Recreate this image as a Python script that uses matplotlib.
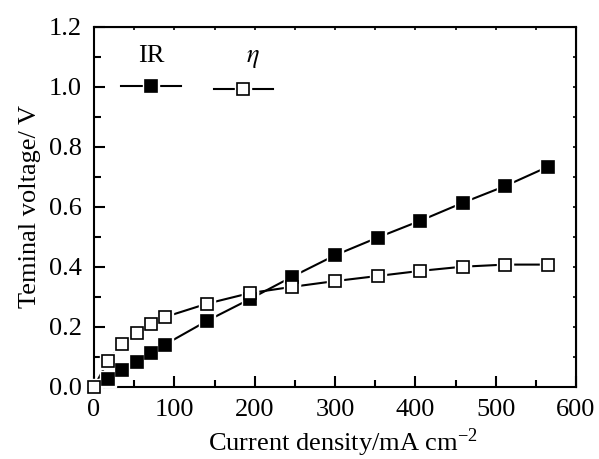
import matplotlib.pyplot as plt
from matplotlib.ticker import MultipleLocator
from matplotlib.legend_handler import HandlerTuple

plt.rcParams['font.family'] = ['Liberation Serif', 'DejaVu Serif']
plt.rcParams['mathtext.fontset'] = 'stix'

current_ir = [17.6, 35.3, 53, 70.6, 88, 141, 194, 247, 300, 353, 406, 459, 512, 565]
ir_drop = [0.026, 0.056, 0.083, 0.113, 0.14, 0.22, 0.292, 0.367, 0.438, 0.497, 0.553, 0.613, 0.669, 0.733]

current_eta = [0, 17.6, 35.3, 53, 70.6, 88, 141, 194, 247, 300, 353, 406, 459, 512, 565]
eta = [0.0, 0.087, 0.141, 0.178, 0.208, 0.232, 0.277, 0.312, 0.333, 0.352, 0.369, 0.386, 0.40, 0.407, 0.407]

fig = plt.figure(figsize=(5.99, 4.59), dpi=100)
ax = fig.add_axes([0.157, 0.1575, 0.8046, 0.7844])


def series(x, y, face, zm):
    # line, white halo to open a gap at each marker, then the marker
    ln, = ax.plot(x, y, '-', color='black', lw=1.5, zorder=3, clip_on=False)
    halo, = ax.plot(x, y, 's', ms=11, mfc='white', mec='white', zorder=3.1,
                    clip_on=False)
    mk, = ax.plot(x, y, 's', ms=8, mfc=face, mec='black', mew=1.2, zorder=zm,
                  clip_on=False)
    return (ln, halo, mk)


h1 = series(current_ir, ir_drop, 'black', 3.2)
h2 = series(current_eta, eta, 'white', 3.3)

ax.set_xlim(0, 600)
ax.set_ylim(0, 1.2)
ax.xaxis.set_major_locator(MultipleLocator(100))
ax.xaxis.set_minor_locator(MultipleLocator(50))
ax.yaxis.set_major_locator(MultipleLocator(0.2))
ax.yaxis.set_minor_locator(MultipleLocator(0.1))
ax.yaxis.set_major_formatter(plt.FormatStrFormatter('%.1f'))

ax.tick_params(which='major', direction='in', length=8, width=1.5, labelsize=19)
ax.tick_params(axis='x', which='major', pad=9)
ax.tick_params(axis='y', which='major', pad=9)
ax.tick_params(which='minor', direction='in', length=5, width=1.5)
for s in ax.spines.values():
    s.set_linewidth(1.5)

# short ticks on top and right
top = ax.secondary_xaxis('top')
top.xaxis.set_major_locator(MultipleLocator(50))
top.tick_params(direction='in', length=2.5, width=1.2, labeltop=False)
right = ax.secondary_yaxis('right')
right.yaxis.set_major_locator(MultipleLocator(0.1))
right.tick_params(direction='in', length=2.5, width=1.2, labelright=False)

ax.set_xlabel('Current density/mA cm$^{\\mathregular{-2}}$', fontsize=19, labelpad=4)
ax.xaxis.label.set_x(0.517)
ax.set_ylabel('Teminal voltage/ V', fontsize=19, labelpad=5)

hmap = {tuple: HandlerTuple(ndivide=1)}
leg1 = ax.legend([h1], [''], title='IR', loc='upper left', bbox_to_anchor=(0.03, 0.985),
                 frameon=False, handlelength=4.3, handletextpad=0, labelspacing=1.0,
                 handler_map=hmap,
                 title_fontproperties={'size': 19, 'family': 'Liberation Serif'})
ax.add_artist(leg1)
ax.legend([h2], [''], title='   $\\eta$', loc='upper left', bbox_to_anchor=(0.222, 0.985),
          frameon=False, handlelength=4.3, handletextpad=0, labelspacing=1.0,
          handler_map=hmap, title_fontproperties={'size': 19})

fig.savefig('out.png', dpi=100)
